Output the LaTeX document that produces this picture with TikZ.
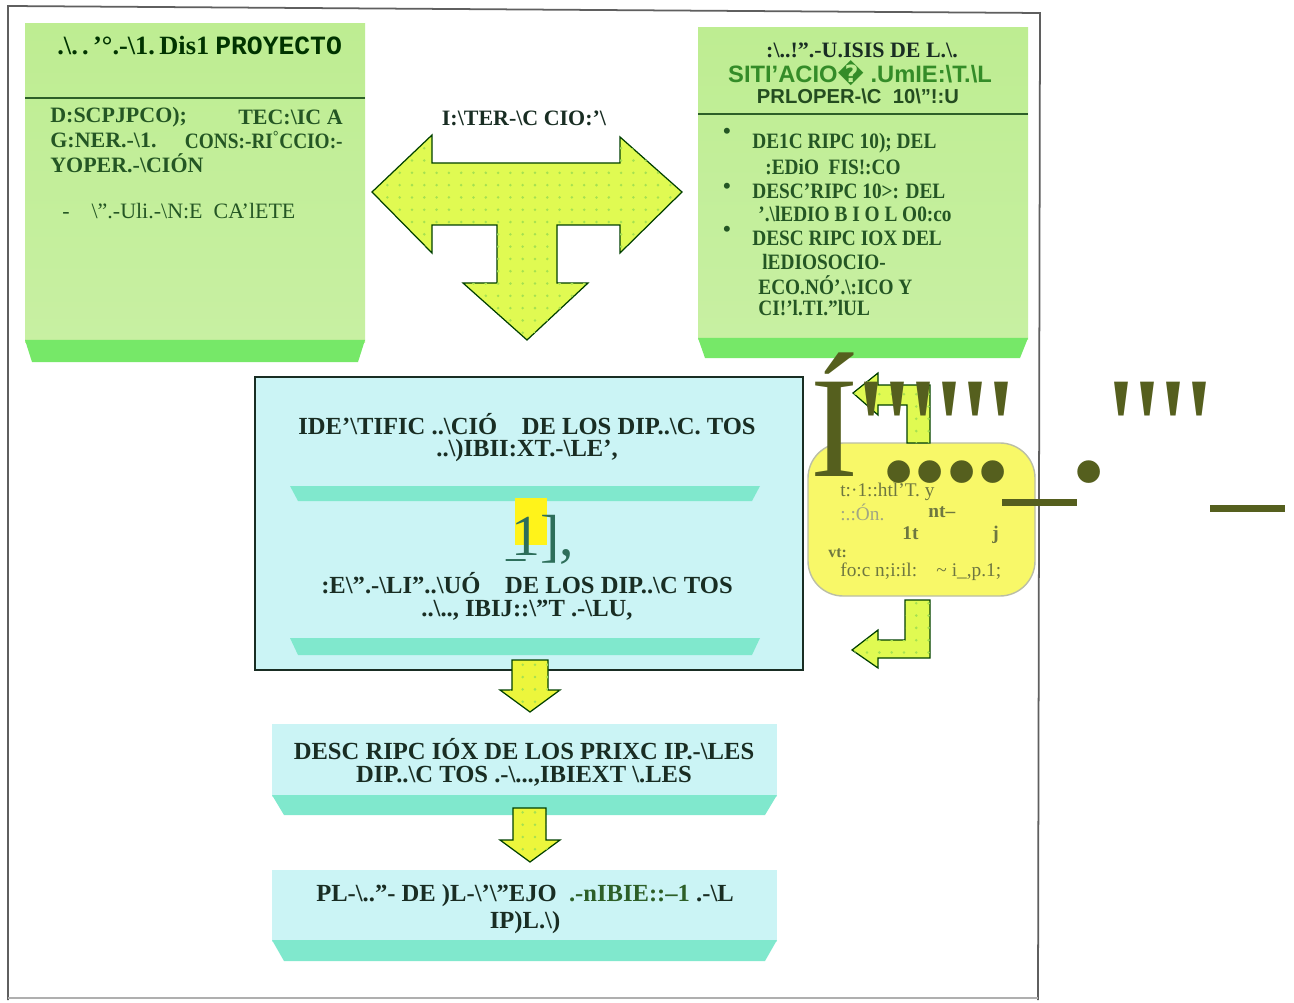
\documentclass[tikz,border=0pt]{standalone}
\usepackage{fontspec}
\usetikzlibrary{patterns.meta}
\setmainfont{Liberation Serif}
\setsansfont{Liberation Sans}
\setmonofont{Liberation Mono}
\newfontfamily\ocrfont{Liberation Serif}
\newfontfamily\narrowserif{Liberation Serif}[Ligatures=TeX, FakeStretch=0.88]
\newfontfamily\symfont{DejaVu Sans}
\newcommand{\bsl}{\textbackslash}

\definecolor{boxgreen}{RGB}{190,237,146}
\definecolor{palegreen}{RGB}{234,250,204}
\definecolor{shelfgreen}{RGB}{118,232,104}
\definecolor{rulegreen}{RGB}{45,95,40}
\definecolor{inkgreen}{RGB}{36,86,36}
\definecolor{brightgreen}{RGB}{52,140,40}
\definecolor{arrowyellow}{RGB}{224,250,82}
\definecolor{flowyellow}{RGB}{236,246,60}
\definecolor{dotgreen}{RGB}{165,225,80}
\definecolor{noteyellow}{RGB}{248,248,104}
\definecolor{paleblue}{RGB}{203,244,245}
\definecolor{shelfblue}{RGB}{128,232,205}
\definecolor{darkink}{RGB}{25,45,35}
\definecolor{tealink}{RGB}{45,110,90}
\definecolor{ocrolive}{RGB}{85,95,30}
\definecolor{framegray}{RGB}{95,95,95}

\tikzdeclarepattern{
  name=scandots,
  type=uncolored,
  bottom left={(-0.1pt,-0.1pt)},
  top right={(7.1pt,7.1pt)},
  tile size={(7pt,7pt)},
  code={\fill (3.5pt,3.5pt) circle (0.8pt);}
}

\begin{document}
\begin{tikzpicture}[
        x=0.02cm, y=-0.02cm,
        body/.style={font=\fontsize{12.5}{13}\selectfont\bfseries, text=inkgreen, anchor=west, inner sep=0pt},
        narrowbody/.style={body, font=\narrowserif\fontsize{12.5}{13}\selectfont\bfseries},
        headline/.style={font=\fontsize{12.5}{13}\selectfont\bfseries, text=darkink, inner sep=0pt},
        flowtext/.style={font=\fontsize{14}{15}\selectfont\bfseries, text=darkink, inner sep=0pt},
        notetext/.style={font=\fontsize{11}{12}\selectfont, text=ocrolive!85, anchor=west, inner sep=0pt},
        ocrmark/.style={font=\ocrfont\fontsize{82}{82}\selectfont, text=ocrolive, inner sep=0pt, anchor=base west},
        ocrdot/.style={font=\ocrfont\fontsize{54}{54}\selectfont, text=ocrolive, inner sep=0pt},
        blockarrow/.style={fill=arrowyellow, draw=black!75!green, line width=0.7pt, line join=miter,
            postaction={pattern=scandots, pattern color=dotgreen}},
        shelf/.style={fill=#1, draw=none}
    ]
    \useasboundingbox (0,0) rectangle (1294,1003);
    \fill[white] (0,0) rectangle (1294,1003);

    % frame of the scanned page
    \draw[framegray, line width=1pt] (8,1000) -- (8,6) -- (1040,13) -- (1038,1000);
    \draw[framegray!50, line width=0.6pt] (8,998) -- (1038,998);

    % green boxes
    \shade[top color=boxgreen, middle color=palegreen, bottom color=boxgreen!85!white] (25,24) rectangle (365,342);
    \path[shelf=shelfgreen] (25,340) -- (365,340) -- (358,362) -- (32,362) -- cycle;
    \draw[rulegreen, line width=1.4pt] (25,98) -- (365,98);

    \shade[top color=boxgreen, middle color=palegreen, bottom color=boxgreen!85!white] (698,28) rectangle (1028,340);
    \path[shelf=shelfgreen] (698,338) -- (1028,338) -- (1020,358) -- (705,358) -- cycle;
    \draw[rulegreen, line width=1.4pt] (698,114) -- (1028,114);

    % T arrow
    \draw[blockarrow] (372,192) -- (432,135) -- (432,163) -- (620,163) -- (620,137) -- (682,192)
        -- (620,253) -- (620,225) -- (557,225) -- (557,283) -- (588,283) -- (527,340)
        -- (463,283) -- (497,283) -- (497,225) -- (432,225) -- (432,253) -- cycle;

    % central box
    \draw[fill=paleblue, draw=darkink, line width=1.3pt] (255,377) rectangle (803,670);
    \path[shelf=shelfblue] (290,486) -- (760,486) -- (752,501) -- (298,501) -- cycle;
    \path[shelf=shelfblue] (290,638) -- (760,638) -- (752,655) -- (298,655) -- cycle;
    \fill[yellow!90!white] (515,498) rectangle (547,545);

    % lower boxes
    \fill[paleblue] (272,724) rectangle (777,797);
    \path[shelf=shelfblue] (272,795) -- (777,795) -- (765,815) -- (284,815) -- cycle;
    \fill[paleblue] (272,870) rectangle (777,942);
    \path[shelf=shelfblue] (272,940) -- (777,940) -- (765,961) -- (284,961) -- cycle;

    % yellow note and its arrows
    \draw[fill=noteyellow, draw=ocrolive!40, line width=0.8pt, rounded corners=20] (808,443) rectangle (1035,596);
    \draw[blockarrow] (853,393) -- (878,373) -- (878,385) -- (930,385) -- (930,443) -- (907,443)
        -- (907,405) -- (878,405) -- (878,415) -- cycle;
    \draw[blockarrow] (905,600) -- (930,600) -- (930,658) -- (878,658) -- (878,668) -- (852,650)
        -- (878,630) -- (878,640) -- (905,640) -- cycle;

    % flow arrows
    \draw[blockarrow, fill=flowyellow] (512,660) -- (548,660) -- (548,690) -- (560,690) -- (530,712)
        -- (500,690) -- (512,690) -- cycle;
    \draw[blockarrow, fill=flowyellow] (513,808) -- (546,808) -- (546,840) -- (560,840) -- (530,862)
        -- (500,840) -- (513,840) -- cycle;

    % Nodes
    \node[headline, anchor=west, text=black!80!green] (projtitle) at (57,46)
        {\fontsize{15}{15}\selectfont .\bsl.\,.\,'°.-\bsl1.\,Dis1};
    \node[headline, anchor=west, text=black!80!green, font=\ttfamily\bfseries\fontsize{15}{15}\selectfont] (projword) at (215,46)
        {PROYECTO};
    \node[body] (tecA) at (50,117) {D:SCPJPCO);};
    \node[body, anchor=east] (tecB) at (343,117) {TEC:\bsl IC A};
    \node[body] (conA) at (50,140) {G:NER.-\bsl1.};
    \node[narrowbody, anchor=east] (conB) at (343,140) {CONS:-RI\textsuperscript{°}CCIO:-};
    \node[body] (oper) at (50,163) {YOPER.-\bsl CIÓN};
    \node[body, font=\fontsize{12.5}{13}\selectfont] (canete) at (62,211)
        {-\quad \bsl".-Uli.-\bsl N:E\ \ CA'lETE};

    \node[headline] (sitA) at (862,50) {:\bsl..!".-U.ISIS DE L.\bsl.};
    \node[headline, font=\sffamily\bfseries\fontsize{13.5}{14}\selectfont, text=brightgreen] (sitB) at (860,73)
        {SITI'ACIO{\symfont\char"FFFD} .UmIE:\bsl T.\bsl L};
    \node[headline, font=\sffamily\bfseries\fontsize{11.5}{12}\selectfont, text=rulegreen!80!black] (sitC) at (858,96)
        {PRLOPER-\bsl C\ \ 10\bsl"!:U};

    \foreach \y/\n in {133/a,188/b,231/c}
        \node[body, anchor=center] (dot\n) at (727,\y) {•};
    \node[narrowbody] (fis1) at (752,143) {DE1C RIPC 10); DEL};
    \node[narrowbody] (fis2) at (765,167) {:EDiO\ \ FIS!:CO};
    \node[narrowbody] (bio1) at (752,191) {DESC'RIPC 10>: DEL};
    \node[narrowbody] (bio2) at (758,214) {'.\bsl lEDIO B I O L O0:co};
    \node[narrowbody] (soc1) at (752,238) {DESC RIPC IOX DEL};
    \node[narrowbody] (soc2) at (762,262) {lEDIOSOCIO-};
    \node[narrowbody] (soc3) at (758,285) {ECO.NÓ'.\bsl:ICO Y};
    \node[narrowbody] (soc4) at (758,308) {CI!'l.TI."lUL};

    \node[headline] (inter) at (524,118) {I:\bsl TER-\bsl C CIO:'\bsl};

    \node[flowtext] (ident1) at (527,424) {IDE'\bsl TIFIC ..\bsl CIÓ\quad DE LOS DIP..\bsl C. TOS};
    \node[flowtext] (ident2) at (527,451) {..\bsl)IBII:XT.-\bsl LE',};
    \node[flowtext, font=\fontsize{33}{33}\selectfont, text=tealink] (one) at (543,540) {1],};
    \node[flowtext, font=\fontsize{22}{22}\selectfont, text=tealink] (under) at (516,559) {\_};
    \node[flowtext] (eval1) at (527,583) {:E\bsl".-\bsl LI"..\bsl UÓ\quad DE LOS DIP..\bsl C TOS};
    \node[flowtext] (eval2) at (527,610) {..\bsl.., IBIJ::\bsl"T .-\bsl LU,};

    \node[flowtext] (desc1) at (524,749) {DESC RIPC IÓX DE LOS PRIXC IP.-\bsl LES};
    \node[flowtext] (desc2) at (524,776) {DIP..\bsl C TOS .-\bsl...,IBIEXT \bsl.LES};
    \node[flowtext] (plan1) at (525,896) {PL-\bsl.."- DE )L-\bsl'\bsl"EJO\ \ {\color{rulegreen}.-nIBIE::--1} .-\bsl L};
    \node[flowtext] (plan2) at (525,923) {IP)L.\bsl)};

    \node[notetext] (nt1) at (840,492) {t:·1::htl'T. y};
    \node[notetext, text=ocrolive!55] (nt2) at (840,512) {:.:Ón.};
    \node[notetext, font=\bfseries\fontsize{11}{12}\selectfont] (nt3) at (928,512) {nt--};
    \node[notetext, font=\bfseries\fontsize{11}{12}\selectfont] (nt4) at (902,533) {1t};
    \node[notetext, font=\bfseries\fontsize{11}{12}\selectfont] (nt5) at (992,535) {j};
    \node[notetext, font=\bfseries\fontsize{9}{10}\selectfont] (nt6) at (828,553) {vt:};
    \node[notetext] (nt7) at (840,572) {fo:c n;i:il:\quad \textasciitilde\ i\_,p.1;};

    % stray glyphs of the scan
    \node[ocrmark] (markA) at (810,476) {Í''''''};
    \node[ocrmark] (markB) at (1108,476) {''''};
    \foreach \x/\n in {899/a,930/b,962/c,993/d,1089/e}
        \node[ocrdot] (blob\n) at (\x,482) {•};
    \fill[ocrolive] (1002,499) rectangle (1077,506);
    \fill[ocrolive] (1210,505) rectangle (1285,512);

\end{tikzpicture}
\end{document}
